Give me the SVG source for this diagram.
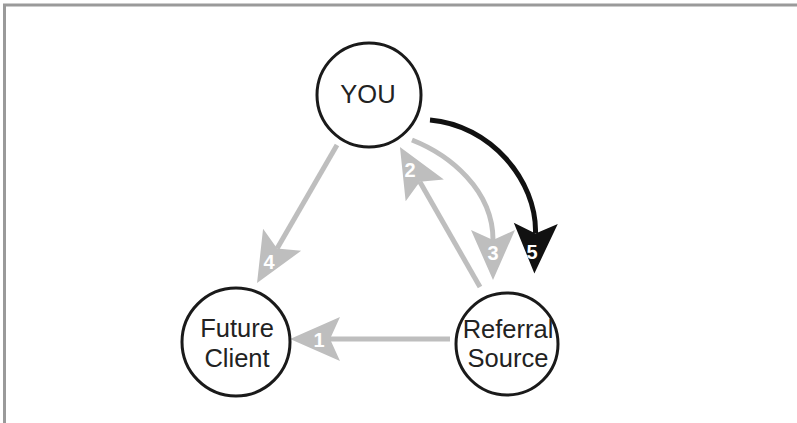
<svg xmlns="http://www.w3.org/2000/svg" width="797" height="423" viewBox="0 0 797 423">
<style>
.node circle{fill:#fff;stroke:#1a1a1a;stroke-width:3}
.node text{font-family:"Liberation Sans",Arial,sans-serif;font-size:25.5px;fill:#222;text-anchor:middle}
.g{fill:none;stroke:#bebebe;stroke-width:5}
.k{fill:none;stroke:#111;stroke-width:5}
.num{font-family:"Liberation Sans",Arial,sans-serif;font-size:20px;font-weight:bold;fill:#fff;text-anchor:middle}
</style>
<defs>
<marker id="ag" markerUnits="userSpaceOnUse" markerWidth="54" markerHeight="50" viewBox="-2 -25 54 50" refX="10" refY="0" orient="auto"><path d="M50,0 L0,-22 L10,0 L0,22 Z" fill="#bebebe"/></marker>
<marker id="ak" markerUnits="userSpaceOnUse" markerWidth="54" markerHeight="50" viewBox="-2 -25 54 50" refX="10" refY="0" orient="auto"><path d="M50,0 L0,-22 L10,0 L0,22 Z" fill="#111"/></marker>
</defs>
<rect width="797" height="423" fill="#fff"/>
<path d="M4.5,423 V5 H797" fill="none" stroke="#9a9a9a" stroke-width="3"/>
<g id="connectors">
<path class="g" d="M450,339 H330" marker-end="url(#ag)"/>
<path class="g" d="M480,287 L419.8,181.7" marker-end="url(#ag)"/>
<path class="g" d="M412,140 C450,155 493,190 493,240" marker-end="url(#ag)"/>
<path class="g" d="M337,145 L277.1,248.4" marker-end="url(#ag)"/>
<path class="k" d="M430,120 C490,125 537,180 535.5,233.4" marker-end="url(#ak)"/>
<text class="num" x="319" y="347">1</text>
<text class="num" x="410" y="177">2</text>
<text class="num" x="493" y="260">3</text>
<text class="num" x="269" y="269">4</text>
<text class="num" x="532" y="259">5</text>
</g>
<g id="you" class="node"><circle cx="369" cy="95" r="52"/><text x="368" y="103">YOU</text></g>
<g id="future-client" class="node"><circle cx="236" cy="342" r="54"/><text x="237" y="337">Future</text><text x="237" y="367">Client</text></g>
<g id="referral-source" class="node"><circle cx="507" cy="344" r="51"/><text x="508" y="338">Referral</text><text x="508" y="367">Source</text></g>
</svg>
